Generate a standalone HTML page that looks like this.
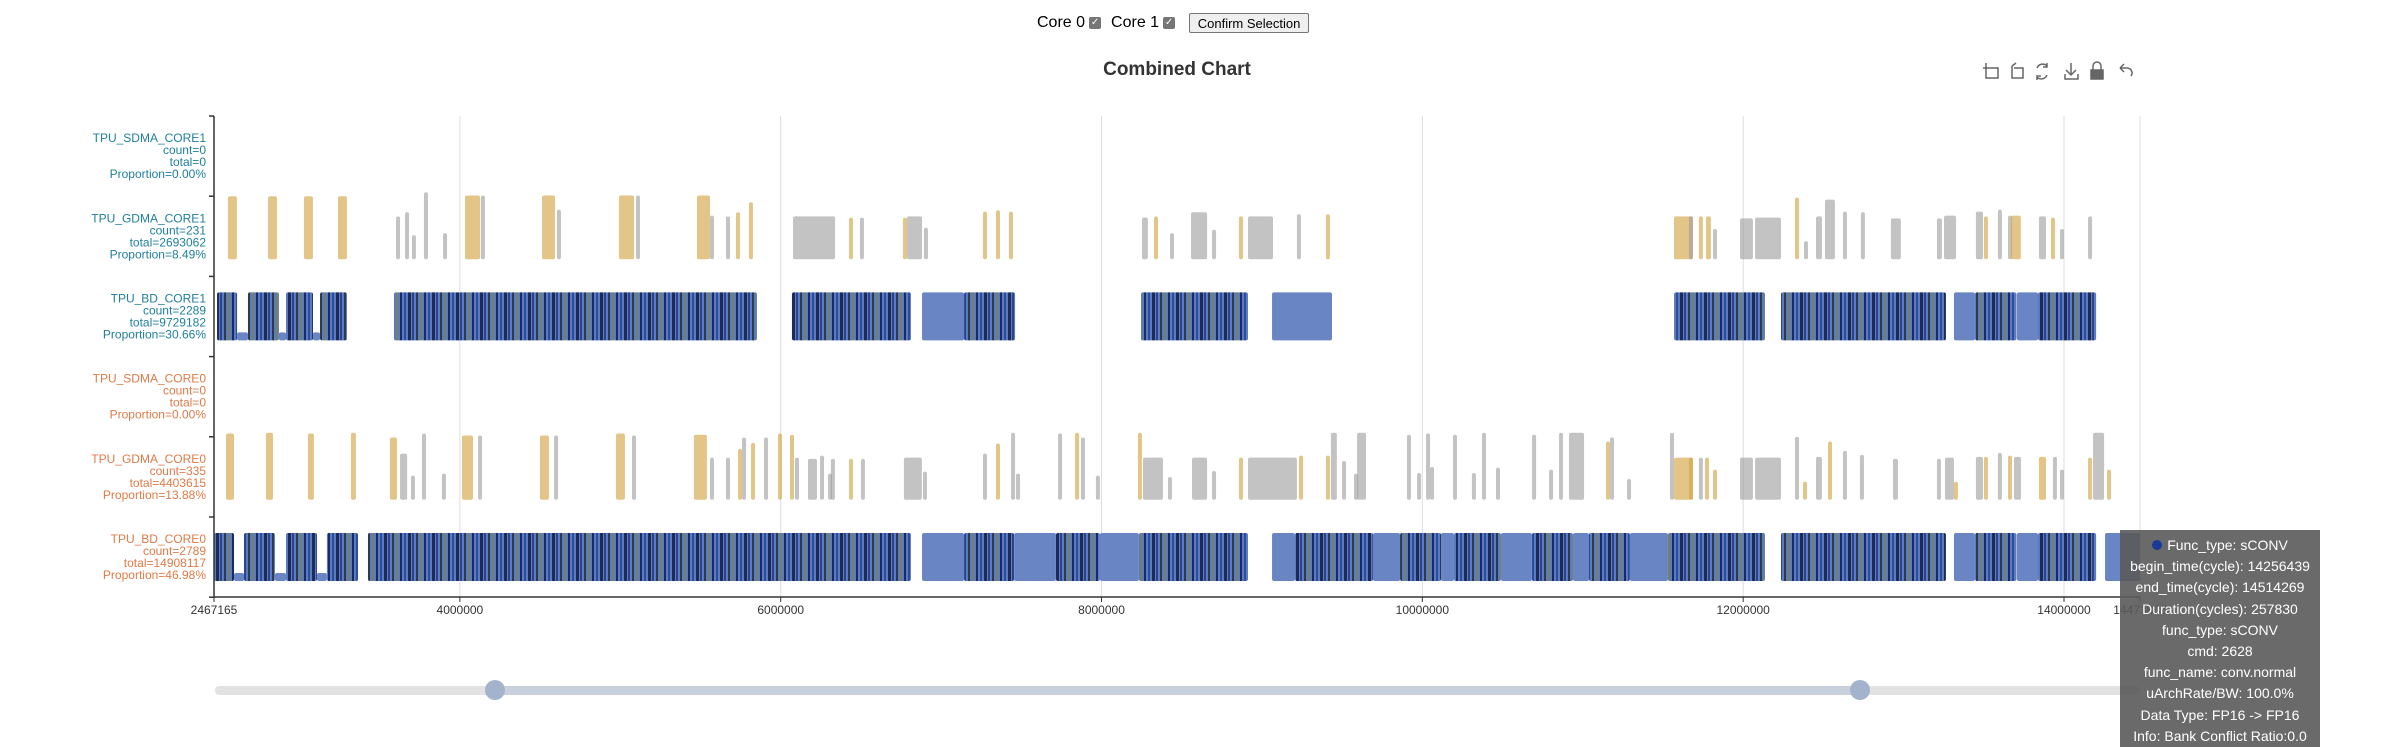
<!DOCTYPE html>
<html><head><meta charset="utf-8">
<style>
html,body{margin:0;padding:0;background:#fff;width:2388px;height:747px;overflow:hidden;font-family:"Liberation Sans",sans-serif;}
#ctrl{position:absolute;left:1037px;top:13px;font-size:16px;color:#000;display:flex;align-items:center;}
.cb{display:inline-block;width:12px;height:12px;background:#767676;border-radius:2px;color:#fff;font-size:10px;line-height:12px;text-align:center;margin:0 10px 0 4px;}
#btn{margin-left:4px;font-size:13px;padding:2px 5px;border:1px solid #767676;border-radius:2px;background:#efefef;height:20px;line-height:15px;box-sizing:border-box;width:120px;}
#tip{position:absolute;left:2120px;top:530px;width:200px;height:217px;background:rgba(90,90,90,0.9);color:#fff;font-size:14px;text-align:center;line-height:21.2px;padding-top:5px;box-sizing:border-box;}
</style></head><body>
<div id="ctrl">
<span>Core 0</span><span class="cb">✓</span>
<span>Core 1</span><span class="cb">✓</span>
<button id="btn">Confirm Selection</button>
</div>
<svg id="chart" width="2388" height="747" style="position:absolute;left:0;top:0">
<defs>
<pattern id="dense" width="24" height="10" patternUnits="userSpaceOnUse">
<rect x="0" y="0" width="24" height="10" fill="#5a7bc0"/>
<rect x="0" y="0" width="3" height="10" fill="#1d2b55"/>
<rect x="4" y="0" width="2" height="10" fill="#2a4590"/>
<rect x="8" y="0" width="2" height="10" fill="#2f3a48"/>
<rect x="12" y="0" width="2" height="10" fill="#767f68"/>
<rect x="16" y="0" width="2" height="10" fill="#1a2a66"/>
<rect x="20" y="0" width="2" height="10" fill="#2d4f9a"/>
</pattern>
</defs>
<text x="1177" y="75" text-anchor="middle" font-size="19" font-weight="bold" fill="#333">Combined Chart</text>
<g id="toolbox" stroke="#666" stroke-width="1.5" fill="none">
<g><path d="M1986 66 V78 H1998 V68 H1988 M1983 68 H1989 M1986 63 V69"/></g>
<g><path d="M2012 66 V78 H2023 V68 H2014 M2012 66 L2016 63"/></g>
<g><path d="M2037 68 A6 6 0 0 1 2047 66 M2047 75 A6 6 0 0 1 2037 77 M2047 63 V67 H2043 M2037 80 V76 H2041"/></g>
<g><path d="M2071 63 V75 M2066 70 L2071 75 L2076 70 M2065 74 V79 H2078 V74"/></g>
<g><path d="M2093 70 V66 A4 4 0 0 1 2101 66 V70"/><rect x="2091" y="70" width="12" height="9" fill="#666"/></g>
<g><path d="M2120 68 L2124 64 M2120 68 L2124 72 M2120 68 H2127 A5 5 0 0 1 2131 76"/></g>
</g>
<g id="grid"></g>
<g id="marks"></g>
<g id="axes"></g>
<g id="labels"></g>
<g id="slider">
<rect x="215" y="686" width="1925" height="9" rx="4" fill="#e2e2e2"/>
<rect x="495" y="686" width="1365" height="9" fill="#c8d0dd"/>
<circle cx="495" cy="690" r="10" fill="#a3b3cd"/>
<circle cx="1860" cy="690" r="10" fill="#a3b3cd"/>
</g>
</svg>
<div id="tip">
<div><span style="display:inline-block;width:10px;height:10px;border-radius:5px;background:#1a3a9a;margin-right:5px"></span>Func_type: sCONV</div>
<div>begin_time(cycle): 14256439</div>
<div>end_time(cycle): 14514269</div>
<div>Duration(cycles): 257830</div>
<div>func_type: sCONV</div>
<div>cmd: 2628</div>
<div>func_name: conv.normal</div>
<div>uArchRate/BW: 100.0%</div>
<div>Data Type: FP16 -&gt; FP16</div>
<div>Info: Bank Conflict Ratio:0.0</div>
</div>
<script>
// ---- data ----
const rowNames = ["TPU_SDMA_CORE1","TPU_GDMA_CORE1","TPU_BD_CORE1","TPU_SDMA_CORE0","TPU_GDMA_CORE0","TPU_BD_CORE0"];
const rowCounts = [0,231,2289,0,335,2789];
const rowTotals = [0,2693062,9729182,0,4403615,14908117];
const rowProps = ["0.00%","8.49%","30.66%","0.00%","13.88%","46.98%"];
const xTicks = [2467165,4000000,6000000,8000000,10000000,12000000,14000000,14473865];
const xMin = 2467165, xMax = 14473865;
// BD segments (thousand cycles): start, end, kind d=dense s=solid l=low
const bd1Start = [2486,2679,2916,3128,3589,6070,6881,7143,8246,9063,11569,12236,13314,13445,13707,13838,2611,2872,3084];
const bd1End   = [2611,2872,3084,3296,5852,6812,7143,7461,8913,9437,12136,13264,13445,13703,13838,14200,2679,2916,3128];
const bd1Kind  = ["d","d","d","d","d","d","s","d","d","s","d","d","s","d","s","d","l","l","l"];
const bd0Start = [2467,2654,2916,3171,3427,6881,7143,7455,7716,7990,8233,9063,9206,9692,9861,10116,10197,10490,10683,10939,11039,11294,11531,12236,13314,13445,13707,13838,14256,2592,2847,3109];
const bd0End   = [2592,2847,3109,3365,6812,7143,7455,7716,7990,8233,8913,9206,9692,9861,10116,10197,10490,10683,10939,11039,11294,11531,12136,13264,13445,13703,13838,14200,14514,2654,2916,3171];
const bd0Kind  = ["d","d","d","d","d","s","d","s","d","s","d","s","d","s","d","s","d","s","d","s","d","s","d","d","s","d","s","d","s","l","l","l"];
// GDMA bars: start (k cycles), duration (k cycles), height (% of band), type g=gold else gray
const g1Start = [2554,2804,3028,3240,3602,3658,3701,3776,3895,4032,4131,4512,4605,4992,5098,5478,5559,5659,5721,5802,6077,6426,6494,6762,6787,6893,7261,7342,7423,8252,8327,8427,8558,8689,8857,8913,9218,9399,11569,11662,11724,11768,11812,11980,12074,12323,12379,12454,12510,12622,12734,12921,13208,13252,13451,13501,13588,13651,13669,13844,13919,13975,14150];
const g1Dur   = [56,56,56,56,25,25,25,25,25,94,25,81,25,94,25,81,25,25,25,25,262,25,25,25,94,25,25,25,25,37,25,25,100,25,25,156,25,25,118,25,25,31,25,81,162,25,25,37,62,25,25,62,31,75,44,25,25,25,62,44,25,25,25];
const g1H     = [94,94,94,94,64,70,36,100,39,95,95,95,74,95,95,95,65,64,70,85,64,62,62,62,64,47,71,73,71,62,64,39,70,44,64,64,67,67,64,64,64,64,45,61,62,92,27,64,89,71,70,61,61,65,71,64,74,65,65,64,62,45,64];
const g1Type  = "gggg.....g.g.g.g..gg.g.g..ggg.g...g..gg.gg...g.........g..g.g...g".split("");
const g0Start = [2542,2791,3053,3321,3564,3627,3695,3764,3888,4013,4113,4499,4587,4973,5073,5459,5559,5659,5734,5759,5815,5896,5983,6058,6089,6170,6245,6295,6313,6426,6500,6768,6887,7261,7342,7436,7467,7729,7835,7872,7965,8227,8258,8414,8564,8689,8857,8913,9231,9399,9430,9499,9574,9593,9904,9967,10023,10048,10191,10309,10372,10459,10684,10790,10852,10914,11145,11170,11276,11544,11569,11662,11724,11762,11812,11980,12074,12323,12373,12454,12529,12622,12728,12934,13208,13258,13314,13451,13501,13588,13651,13688,13844,13931,13975,14150,14181,14268];
const g0Dur   = [50,44,37,31,44,44,25,25,25,69,25,56,25,56,25,81,25,25,25,25,25,25,25,25,25,56,25,25,25,25,25,112,25,25,25,25,25,25,25,25,25,25,125,25,94,25,25,305,25,25,37,25,25,56,25,25,25,25,25,25,25,25,25,25,25,94,25,25,25,25,118,25,25,25,25,81,162,25,25,37,25,25,25,31,25,56,25,44,25,25,25,44,44,25,25,25,69,25];
const g0H     = [99,100,99,100,93,69,36,99,39,96,96,96,96,99,96,97,63,63,76,93,85,93,99,97,63,61,66,39,61,61,61,63,42,69,84,100,39,99,100,93,36,100,63,34,63,43,63,63,66,66,100,58,39,100,97,40,99,49,97,40,100,48,97,45,100,100,87,93,31,100,63,63,63,63,45,63,63,94,27,64,87,73,67,61,61,63,27,64,64,70,66,64,64,64,45,63,100,45];
const g0Type  = "ggggg....g.g.g.g..g.g.gg.....g....g...g..g....g.gg................g...gg.gg...g.g.....g.g.g.g..g.g..".split("");

// ---- axes ----
const L = 214, R = 2140, T = 116, B = 597, BH = 80.2;
function xs(v){ return L + (v - xMin) / (xMax - xMin) * (R - L); }
function rowTop(i){ return T + i * BH; }
const NS = "http://www.w3.org/2000/svg";
function mk(tag, attrs, parent){ const e = document.createElementNS(NS, tag); for (const k in attrs) e.setAttribute(k, attrs[k]); parent.appendChild(e); return e; }

const grid = document.getElementById('grid'), axes = document.getElementById('axes'), marks = document.getElementById('marks'), labels = document.getElementById('labels');
xTicks.forEach((t, i) => {
  const x = xs(t);
  if (i > 0) { const gl = mk('line', {x1:x, x2:x, y1:T, y2:B, stroke:'#ddd', 'stroke-width':1}, grid);
    
     }
  const tk = mk('line', {x1:x, x2:x, y1:B, y2:B+5, stroke:'#333'}, axes);
  
  
  const tx = mk('text', {x:x, y:B+17, 'text-anchor':'middle', 'font-size':12, fill:'#333'}, axes);
  
  
  tx.textContent = t;
});
const xa = mk('line', {x1:L, x2:R, y1:B, y2:B, stroke:'#333', 'stroke-width':1.5}, axes);


const ya = mk('line', {x1:L, x2:L, y1:T, y2:B, stroke:'#333', 'stroke-width':1.5}, axes);


for (let i = 0; i <= 6; i++) {
  const yt = mk('line', {x1:L-5, x2:L, y1:rowTop(i), y2:rowTop(i), stroke:'#333', 'stroke-width':1.5}, axes);
  
  
}
rowNames.forEach((n, i) => {
  const col = i < 3 ? '#1f7f9e' : '#e07a47';
  const cy = rowTop(i) + BH / 2;
  const g = mk('text', {x:206, y:cy - 14, 'text-anchor':'end', 'font-size':12, fill:col}, labels);
  
  
  [n, 'count=' + rowCounts[i], 'total=' + rowTotals[i], 'Proportion=' + rowProps[i]].forEach((s, j) => { const ts = mk('tspan', {x:206, y:cy - 14 + j * 12}, g); ts.textContent = s; });
});

function drawBD(starts, ends, kinds, row, name){
  const top = rowTop(row) + 16, bot = rowTop(row) + 64;
  starts.forEach((s, i) => {
    const x0 = xs(s * 1000), x1 = Math.min(xs(ends[i] * 1000), R);
    let y0 = top, fill = kinds[i] === 'd' ? 'url(#dense)' : '#6985c3';
    if (kinds[i] === 'l') { y0 = bot - 8; fill = '#6985c3'; }
    const r = mk('rect', {x:x0, y:y0, width:Math.max(x1 - x0, 1), height:bot - y0, fill:fill, rx:2}, marks);
    
    
  });
}
function drawGDMA(starts, durs, hs, types, row, name){
  const bot = rowTop(row) + 63, full = 67;
  starts.forEach((s, i) => {
    const x0 = xs(s * 1000), x1 = xs((s + durs[i]) * 1000);
    const h = full * hs[i] / 100;
    const fill = types[i] === 'g' ? 'rgba(212,166,72,0.65)' : 'rgba(155,155,155,0.6)';
    const r = mk('rect', {x:x0, y:bot - h, width:Math.max(x1 - x0, 3), height:h, fill:fill, rx:2}, marks);
    
    
  });
}
drawGDMA(g1Start, g1Dur, g1H, g1Type, 1, 'gdma-core1');
drawBD(bd1Start, bd1End, bd1Kind, 2, 'bd-core1');
drawGDMA(g0Start, g0Dur, g0H, g0Type, 4, 'gdma-core0');
drawBD(bd0Start, bd0End, bd0Kind, 5, 'bd-core0');
</script>
</body></html>
